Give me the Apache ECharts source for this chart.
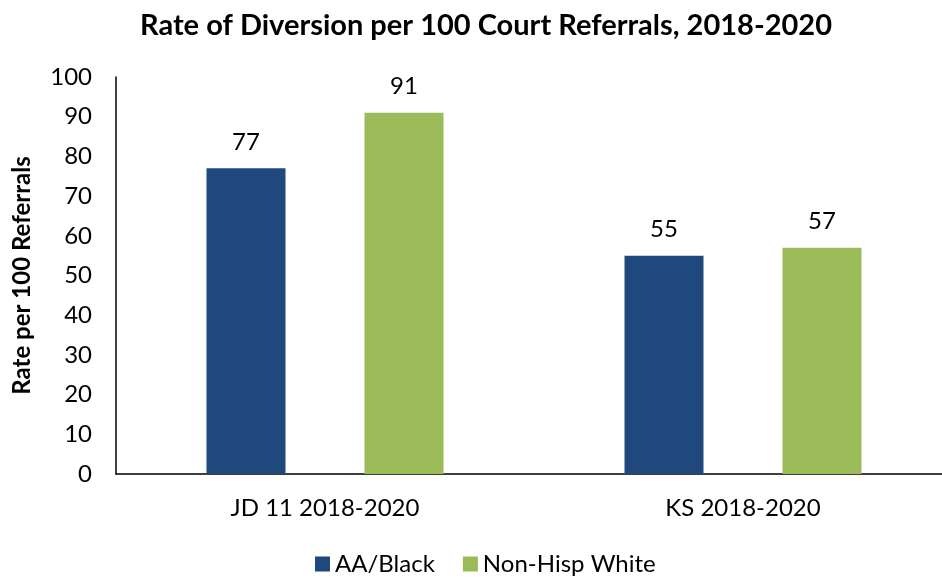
<!DOCTYPE html>
<html>
<head>
<meta charset="utf-8">
<script src="https://cdn.jsdelivr.net/npm/echarts@6/dist/echarts.min.js"></script>
<style>
  html, body { margin: 0; padding: 0; background: #fff; }
  #chart { width: 942px; height: 578px; }
</style>
</head>
<body>
<div id="chart"></div>
<script>
// Diversion rates per 100 court referrals
const categories = ['JD 11 2018-2020', 'KS 2018-2020'];
const seriesNames = ['AA/Black', 'Non-Hisp White'];
const blackValues = [77, 55];
const whiteValues = [91, 57];
const yTicks = [0, 10, 20, 30, 40, 50, 60, 70, 80, 90, 100];

const FONT = 'Lato, "Open Sans", sans-serif';
const chart = echarts.init(document.getElementById('chart'));

chart.setOption({
  backgroundColor: '#ffffff',
  animation: false,
  title: {
    text: 'Rate of Diversion per 100 Court Referrals, 2018-2020',
    left: 481,
    textAlign: 'center',
    top: 6,
    textStyle: { fontFamily: FONT, fontSize: 29, fontWeight: 'bold', color: '#000' }
  },
  legend: {
    bottom: -3,
    left: 310,
    itemWidth: 15,
    itemHeight: 15,
    itemGap: 28,
    icon: 'rect',
    textStyle: { fontFamily: FONT, fontSize: 24, color: '#000' },
    data: seriesNames
  },
  // the plot runs past the right edge of the canvas, so keep the grid unclamped
  grid: { left: 116, top: 77, width: 836, bottom: 104, containLabel: false, outerBoundsMode: 'none' },
  xAxis: {
    type: 'category',
    data: categories,
    axisLine: { lineStyle: { color: '#000', width: 1.5 } },
    axisTick: { show: false },
    axisLabel: { fontFamily: FONT, fontSize: 24, color: '#000', margin: 22 }
  },
  yAxis: {
    type: 'value',
    min: yTicks[0],
    max: yTicks[yTicks.length - 1],
    interval: yTicks[1] - yTicks[0],
    name: 'Rate per 100 Referrals',
    nameLocation: 'middle',
    nameGap: 82,
    nameTextStyle: { fontFamily: FONT, fontSize: 24, fontWeight: 'bold', color: '#000' },
    axisLine: { show: true, lineStyle: { color: '#000', width: 1.5 } },
    axisTick: { show: false },
    splitLine: { show: false },
    axisLabel: { fontFamily: FONT, fontSize: 24, color: '#000', margin: 24 }
  },
  series: [
    {
      name: seriesNames[0],
      type: 'bar',
      data: blackValues,
      barWidth: 79,
      barGap: '100%',
      itemStyle: { color: '#1F497D' },
      label: { show: true, position: 'top', distance: 14, fontFamily: FONT, fontSize: 24, color: '#000' }
    },
    {
      name: seriesNames[1],
      type: 'bar',
      data: whiteValues,
      barWidth: 79,
      barGap: '100%',
      itemStyle: { color: '#9BBB59' },
      label: { show: true, position: 'top', distance: 14, fontFamily: FONT, fontSize: 24, color: '#000' }
    }
  ]
});
</script>
</body>
</html>
